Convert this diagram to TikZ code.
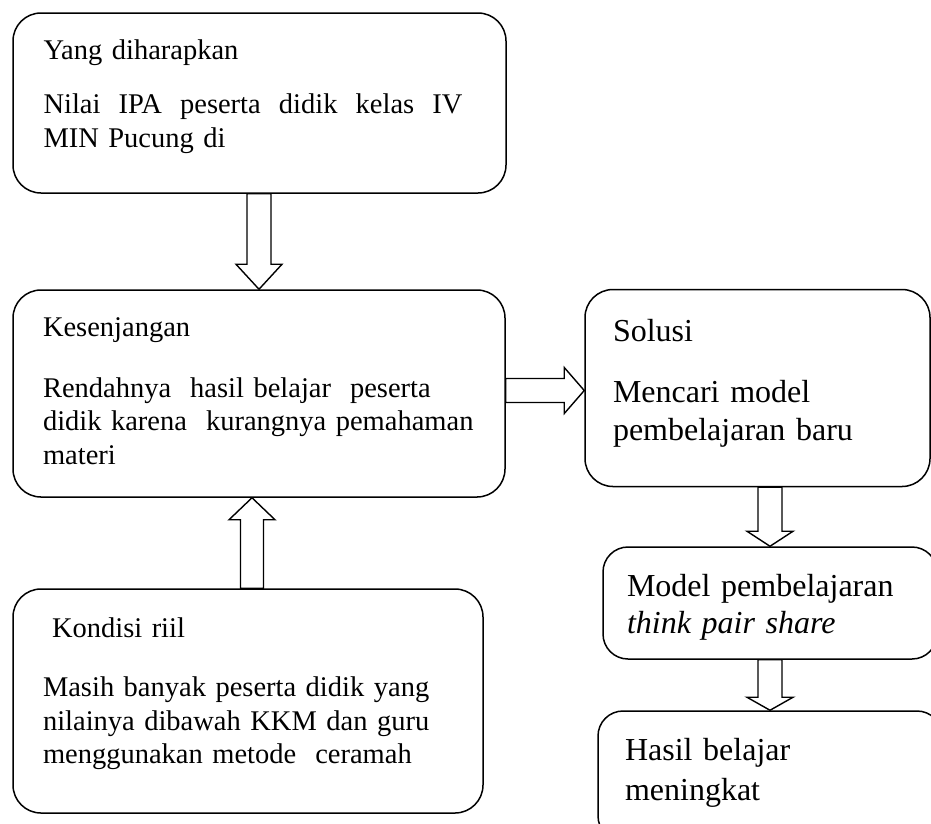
\documentclass[tikz,border=0pt]{standalone}
\usepackage{fontspec}
\setmainfont{Liberation Serif}
\usetikzlibrary{calc}

% hollow block arrows between two anchors (start, tip, head length)
\newcommand{\blockdown}[3]{%
  \draw[blockarrow] let \p1=(#1), \p2=(#2) in
    (\x2-12pt,\y1) -- (\x2-12pt,\y2+#3) -- (\x2-23pt,\y2+#3) -- (\x2,\y2)
    -- (\x2+23pt,\y2+#3) -- (\x2+12pt,\y2+#3) -- (\x2+12pt,\y1) -- cycle;}
\newcommand{\blockup}[3]{%
  \draw[blockarrow] let \p1=(#1), \p2=(#2) in
    (\x1-11.5pt,\y1) -- (\x1-11.5pt,\y2-#3) -- (\x1-23pt,\y2-#3) -- (\x1,\y2)
    -- (\x1+23pt,\y2-#3) -- (\x1+11.5pt,\y2-#3) -- (\x1+11.5pt,\y1) -- cycle;}
\newcommand{\blockright}[3]{%
  \draw[blockarrow] let \p1=(#1), \p2=(#2) in
    (\x1,\y1+12pt) -- (\x2-#3,\y1+12pt) -- (\x2-#3,\y1+23pt) -- (\x2,\y1)
    -- (\x2-#3,\y1-23pt) -- (\x2-#3,\y1-12pt) -- (\x1,\y1-12pt) -- cycle;}

\begin{document}
\begin{tikzpicture}[
        x=1pt, y=-1pt,
        box/.style={
          draw,
          rounded corners=28pt,
          line width=1.5pt,
          align=left,
          inner xsep=30pt,
          text width=432pt,
          font=\fontsize{28.5pt}{33.5pt}\selectfont
        },
        bigbox/.style={
          box,
          font=\fontsize{32pt}{38pt}\selectfont
        },
        textup/.style={
          execute at end node={\endgraf\vspace{#1}}
        },
        blockarrow/.style={
          draw,
          fill=white,
          line width=1.4pt,
          line join=miter
        }
      ]
      \useasboundingbox (0,0) rectangle (931,823);
      \clip (0,0) rectangle (931,823);

      \node[box, textup=13pt, minimum width=493pt, minimum height=180pt] (want) at (259.5,103)
        {Yang diharapkan\\[20.5pt]
         \leavevmode\hbox to 419pt{Nilai\hfil IPA\hfil peserta\hfil didik\hfil kelas\hfil IV}\\
         MIN Pucung di};
      \node[box, textup=5pt, minimum width=492pt, minimum height=207pt] (gap) at (259,393.5)
        {Kesenjangan\\[27pt]
         \mbox{Rendahnya\ \ hasil belajar\ \ peserta}\\
         \mbox{didik karena\ \ kurangnya pemahaman}\\
         materi};
      \node[box, textup=15pt, text width=410pt, minimum width=470pt, minimum height=224pt] (real) at (248,701)
        {\hspace*{9pt}Kondisi riil\\[26pt]
         Masih banyak peserta didik yang\\
         nilainya dibawah KKM dan guru\\
         menggunakan metode\ \ ceramah};

      \node[bigbox, textup=10pt, inner xsep=28pt, text width=289pt,
            minimum width=345pt, minimum height=197pt] (sol) at (757.5,388)
        {Solusi\\[23pt]
         Mencari model\\
         pembelajaran baru};
      \node[bigbox, textup=-8pt, rounded corners=25pt, inner xsep=24pt, text width=286pt,
            minimum width=334pt, minimum height=112pt,
            font=\fontsize{32pt}{37pt}\selectfont] (model) at (770,603)
        {Model pembelajaran\\
         \textit{think pair share}};
      \node[bigbox, textup=7pt, rounded corners=25pt, inner xsep=27pt, text width=290pt,
            minimum width=344pt, minimum height=130pt,
            font=\fontsize{32pt}{40pt}\selectfont] (hasil) at (770,776)
        {Hasil belajar\\
         meningkat};

      \blockdown{want.south}{gap.north}{25pt}
      \blockup{[xshift=4pt]real.north}{gap.south}{22pt}
      \blockright{[yshift=3pt]gap.east}{sol.west}{20pt}
      \blockdown{sol.south -| model.north}{model.north}{15pt}
      \blockdown{model.south}{hasil.north}{13pt}
    \end{tikzpicture}
\end{document}
